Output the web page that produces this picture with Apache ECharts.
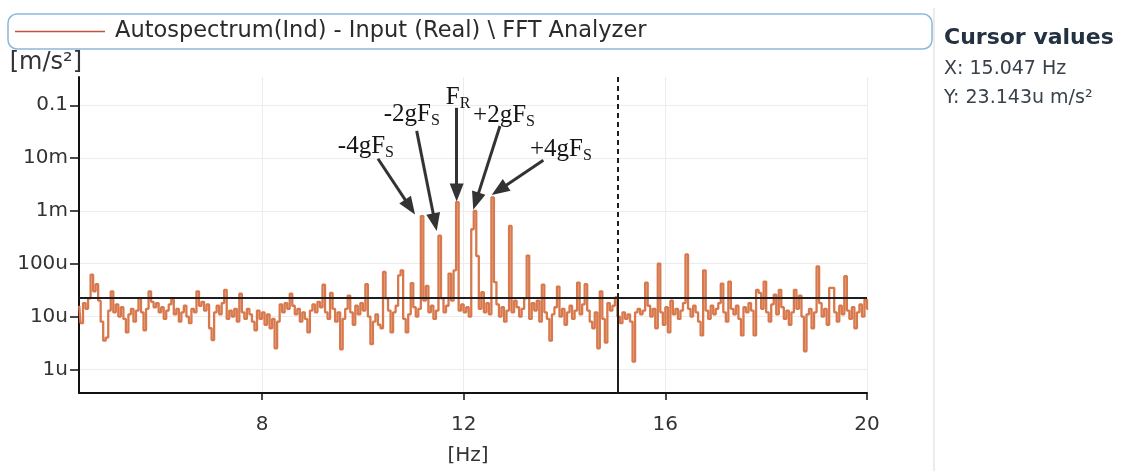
<!DOCTYPE html>
<html>
<head>
<meta charset="utf-8">
<script src="https://cdn.jsdelivr.net/npm/echarts@6/dist/echarts.min.js"></script>
<style>
  html, body { margin: 0; padding: 0; background: #ffffff; }
  #chart { width: 1135px; height: 471px; }
</style>
</head>
<body>
<div id="chart"></div>
<script>
// Autospectrum of the input channel, 0.05 Hz bins starting at 4.375 Hz, values in µm/s²
const freqStartHz = 4.375;
const binWidthHz = 0.05;
const spectrumMicro = [
  16, 7.5, 18, 14, 22, 62, 30, 41, 20, 8,
  3.5, 4, 13, 30, 12, 17, 10, 15, 9, 5,
  11, 14, 8, 13, 22, 12, 5.5, 14, 30, 19,
  15, 18, 12, 15, 9, 13, 17, 21, 11, 14,
  8, 12, 16, 10, 7.5, 14, 12, 30, 16, 19,
  13, 17, 6, 3.6, 12, 16, 11, 18, 32, 9,
  13, 10, 14, 8, 27, 12, 9, 14, 11, 8,
  5.5, 13, 9, 12, 7, 11, 6, 9, 2.5, 8,
  17, 12, 18, 14, 27, 16, 11, 14, 8, 12,
  9, 5, 13, 17, 12, 19, 15, 40, 12, 9,
  28, 14, 8, 12, 2.4, 9, 14, 25, 12, 7,
  16, 11, 18, 13, 41, 10, 3, 8, 11, 7,
  6, 70, 22, 13, 5, 12, 16, 60, 75, 9,
  5, 11, 43, 15, 10, 14, 800, 20, 38, 12,
  16, 9, 13, 340, 22, 12, 16, 65, 20, 75,
  1470, 13, 17, 12, 15, 10, 450, 1000, 140, 14,
  29, 12, 18, 11, 1800, 45, 17, 10, 15, 8,
  13, 520, 12, 20, 15, 10, 14, 22, 143, 9,
  18, 13, 20, 8, 40, 12, 9, 3.5, 11, 15,
  37, 10, 14, 7, 12, 16, 9, 13, 44, 11,
  17, 41, 13, 8, 6, 12, 2.5, 30, 9, 3.2,
  18, 13, 16, 23, 10, 7.5, 12, 9, 11, 8,
  1.4, 12, 14, 11, 13, 44, 16, 10, 14, 6,
  100, 12, 7, 15, 5, 20, 11, 14, 9, 13,
  18, 150, 14, 10, 16, 12, 8, 4.4, 75, 13,
  9, 16, 11, 14, 18, 42, 12, 8, 46, 14,
  11, 16, 9, 4.4, 15, 12, 18, 13, 4.4, 32,
  28, 14, 46, 12, 8, 17, 26, 11, 32, 15,
  9, 13, 7, 12, 32, 14, 25, 10, 2.2, 11,
  14, 6, 12, 89, 18, 10, 14, 7, 35, 35,
  12, 8, 16, 11, 58, 13, 9, 15, 6, 12,
  17, 10, 21, 14
];

// Cursor readout
const cursorHz = 15.047;
const cursorValue = 23.143e-6;

// Axis ranges and ticks
const xMin = 4.37, xMax = 20;
const xTickValues = [8, 12, 16, 20];
const yMin = 3.57e-7, yMax = 0.343;
const yTickValues = [1e-6, 1e-5, 1e-4, 1e-3, 1e-2, 1e-1];
const yTickLabels = ['1u', '10u', '100u', '1m', '10m', '0.1'];

// Sideband annotations: label position, arrow tail, arrow head (Hz, m/s²)
const annotationText = ['-4gF', '-2gF', 'F', '+2gF', '+4gF'];
const annotationSub = ['S', 'S', 'R', 'S', 'S'];
const annotationLabelAt = [[10.06, 0.0163], [10.97, 0.0671], [11.89, 0.139], [12.80, 0.0643], [13.93, 0.0143]];
const annotationTail = [[10.30, 9.73e-3], [11.068, 0.0328], [11.861, 0.0895], [12.72, 0.0406], [13.58, 9.06e-3]];
const annotationHead = [[10.937, 1.18e-3], [11.43, 6.11e-4], [11.861, 2.23e-3], [12.244, 1.53e-3], [12.704, 2.50e-3]];

const legendName = 'Autospectrum(Ind) - Input (Real) \\ FFT Analyzer';
const uiFont = '"DejaVu Sans", Verdana, sans-serif';
const serifFont = '"Liberation Serif", "DejaVu Serif", serif';
const traceColor = '#d8794d';
const inkColor = '#1e1e1e';

const spectrumData = spectrumMicro.map((v, i) => [freqStartHz + i * binWidthHz, v * 1e-6]);

function yLabel(v) {
  const idx = yTickValues.findIndex(t => Math.abs(Math.log10(t) - Math.log10(v)) < 1e-6);
  return idx >= 0 ? yTickLabels[idx] : '';
}

// Stretch the legend frame out to the divider of the readout panel
const legendFontSize = 22.5;
const legendTextGap = 10;
const measureCtx = document.createElement('canvas').getContext('2d');
measureCtx.font = legendFontSize + 'px "DejaVu Sans"';
const legendTextW = measureCtx.measureText(legendName).width;
const legendPadRight = Math.max(10, 932 - (8 + 7 + 90 + legendTextGap + legendTextW));

const arrowLines = annotationTail.map((tail, i) => [
  { coord: tail, symbol: 'none', lineStyle: { color: '#333333', width: 3, type: 'solid' } },
  { coord: annotationHead[i], symbol: 'triangle', symbolSize: [14, 18] }
]);

const chart = echarts.init(document.getElementById('chart'), null, { renderer: 'canvas' });

chart.setOption({
  animation: false,
  backgroundColor: '#ffffff',
  textStyle: { fontFamily: uiFont },
  grid: { left: 79, right: 268, top: 77, bottom: 73, containLabel: false },
  legend: {
    data: [{ name: legendName }],
    left: 8,
    top: 14,
    padding: [6, legendPadRight, 6, 7],
    icon: 'rect',
    itemWidth: 90,
    itemHeight: 1.5,
    itemStyle: { color: '#b9583a' },
    borderColor: '#8db7da',
    borderWidth: 1.5,
    borderRadius: 9,
    selectedMode: false,
    textStyle: { fontSize: legendFontSize, color: '#2b2b2b', fontFamily: uiFont, padding: [0, 0, 0, legendTextGap - 5] }
  },
  xAxis: {
    type: 'value',
    min: xMin,
    max: xMax,
    axisLine: { onZero: false, lineStyle: { color: '#111111', width: 2 } },
    axisTick: { customValues: xTickValues, length: 7, lineStyle: { color: '#111111', width: 1.5 } },
    axisLabel: { customValues: xTickValues, color: '#333333', fontSize: 20, margin: 22, fontFamily: uiFont },
    splitLine: { show: true, lineStyle: { color: '#ececec', width: 1 } },
    name: '[Hz]',
    nameLocation: 'middle',
    nameGap: 53,
    nameTextStyle: { color: '#333333', fontSize: 20, fontFamily: uiFont, padding: [0, 10, 0, 0] }
  },
  yAxis: {
    type: 'log',
    logBase: 10,
    min: yMin,
    max: yMax,
    axisLine: { show: true, lineStyle: { color: '#111111', width: 2 } },
    axisTick: { show: true, customValues: yTickValues, length: 9, lineStyle: { color: '#111111', width: 1.5 } },
    axisLabel: { customValues: yTickValues, formatter: yLabel, color: '#333333', fontSize: 20, margin: 11, fontFamily: uiFont },
    splitLine: { show: true, lineStyle: { color: '#ececec', width: 1 } },
    name: '[m/s²]',
    nameLocation: 'end',
    nameGap: 2,
    nameTextStyle: { align: 'right', verticalAlign: 'bottom', color: '#333333', fontSize: 24, fontFamily: uiFont, padding: [0, -3, 0, 0] }
  },
  series: [{
    name: legendName,
    type: 'line',
    step: 'middle',
    symbol: 'none',
    data: spectrumData,
    lineStyle: { color: traceColor, width: 2.3 },
    itemStyle: { color: traceColor },
    z: 2,
    markLine: {
      silent: true,
      animation: false,
      symbol: 'none',
      label: { show: false },
      data: [
        [
          { coord: [xMin, cursorValue], lineStyle: { color: inkColor, width: 2.2, type: 'solid' } },
          { coord: [xMax, cursorValue] }
        ],
        [
          { coord: [cursorHz, yMax], lineStyle: { color: inkColor, width: 2, type: [5, 4] } },
          { coord: [cursorHz, cursorValue] }
        ],
        [
          { coord: [cursorHz, cursorValue], lineStyle: { color: inkColor, width: 2, type: 'solid' } },
          { coord: [cursorHz, yMin] }
        ]
      ].concat(arrowLines)
    },
    markPoint: {
      silent: true,
      animation: false,
      symbol: 'circle',
      symbolSize: 1,
      itemStyle: { color: 'rgba(0,0,0,0)' },
      data: annotationLabelAt.map((pos, i) => ({
        coord: pos,
        label: {
          show: true,
          position: 'inside',
          formatter: annotationText[i] + '{sub|' + annotationSub[i] + '}',
          color: '#151515',
          fontFamily: serifFont,
          fontSize: 25,
          rich: {
            sub: {
              color: '#151515',
              fontFamily: serifFont,
              fontSize: 16,
              padding: [12, 0, 0, 0]
            }
          }
        }
      }))
    }
  }],
  graphic: [
    { type: 'line', shape: { x1: 934, y1: 8, x2: 934, y2: 471 }, style: { stroke: '#d9d9d9', lineWidth: 1 }, silent: true },
    { type: 'text', left: 944, top: 27, style: { text: 'Cursor values', fill: '#243140', font: 'bold 22px "DejaVu Sans"' } },
    { type: 'text', left: 944, top: 60, style: { text: 'X: ' + cursorHz.toFixed(3) + ' Hz', fill: '#39414b', font: '19px "DejaVu Sans"' } },
    { type: 'text', left: 944, top: 89, style: { text: 'Y: ' + (cursorValue * 1e6).toFixed(3) + 'u m/s²', fill: '#39414b', font: '19px "DejaVu Sans"' } }
  ]
});
</script>
</body>
</html>
